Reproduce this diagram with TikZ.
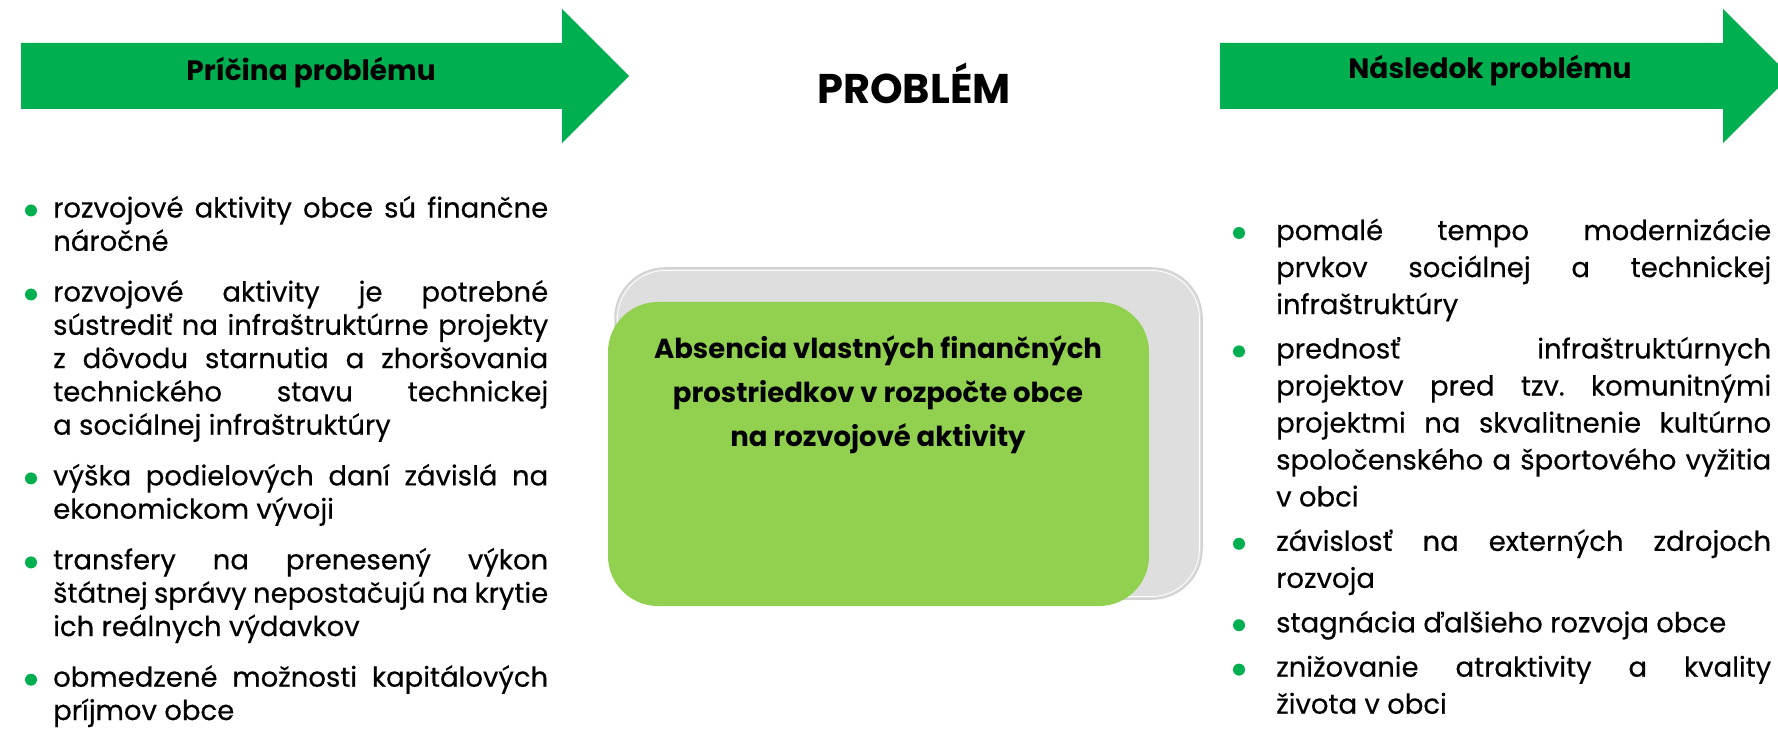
\documentclass[tikz,border=0pt]{standalone}
\usepackage{fontspec}
\setmainfont{Poppins}
\newfontfamily\bodyfont{Poppins}[FakeBold=0.4]
\usetikzlibrary{positioning}

\definecolor{arrowgreen}{HTML}{00B050}
\definecolor{boxgreen}{HTML}{92D050}
\definecolor{boxgray}{HTML}{DEDEDE}
\definecolor{boxedge}{HTML}{D2D2D2}

\tolerance=9999
\hyphenpenalty=10000

\tikzset{
  bulletitem/.style={inner sep=0pt, text width=495pt, align=justify,
    font=\bodyfont\fontsize{27.5}{33.3}\selectfont,
    execute at begin node=\strut, execute at end node=\strut},
  effectitem/.style={bulletitem, font=\bodyfont\fontsize{27.5}{37}\selectfont},
  headtext/.style={inner sep=0pt, font=\bfseries\fontsize{28}{32}\selectfont},
}

\begin{document}
\begin{tikzpicture}[x=1pt, y=-1pt]
\useasboundingbox (0,0) rectangle (1778,735);
\clip (0,0) rectangle (1778,735);

% arrows
\fill[arrowgreen] (21,43) -- (562,43) -- (562,9) -- (629,76) -- (562,143) -- (562,109) -- (21,109) -- cycle;
\fill[arrowgreen] (1220,43) -- (1723,43) -- (1723,9) -- (1790,76) -- (1723,143) -- (1723,109) -- (1220,109) -- cycle;

\node[headtext] (cause) at (311,73) {Príčina problému};
\node[headtext] (effect) at (1490,71) {Následok problému};
\node[inner sep=0pt, font=\bfseries\fontsize{41.5}{48}\selectfont] (problem) at (914,83) {PROBLÉM};

% problem box
\filldraw[fill=boxgray, draw=boxedge, line width=1.5pt, rounded corners=50pt] (615,268) rectangle (1202,599);
\draw[white, line width=0.8pt, rounded corners=48pt] (617.5,270.5) rectangle (1199.5,596.5);
\fill[boxgreen, rounded corners=50pt] (608,302) rectangle (1149,606);

\node[inner sep=0pt, align=center, font=\bfseries\fontsize{27.5}{44}\selectfont] (absence) at (878,395)
  {Absencia vlastných finančných\\prostriedkov v rozpočte obce\\na rozvojové aktivity};

% causes
\node[bulletitem, anchor=north west] (c1) at (53,194)
  {rozvojové aktivity obce sú finančne\linebreak náročné};
\node[bulletitem, below=17pt of c1] (c2)
  {rozvojové aktivity je potrebné\linebreak sústrediť na infraštruktúrne projekty\linebreak z~dôvodu starnutia a~zhoršovania\linebreak technického stavu technickej\linebreak a~sociálnej infraštruktúry};
\node[bulletitem, below=17pt of c2] (c3)
  {výška podielových daní závislá na\linebreak ekonomickom vývoji};
\node[bulletitem, below=17pt of c3] (c4)
  {transfery na prenesený výkon\linebreak štátnej správy nepostačujú na krytie\linebreak ich reálnych výdavkov};
\node[bulletitem, below=17pt of c4] (c5)
  {obmedzené možnosti kapitálových\linebreak príjmov obce};

% effects
\node[effectitem, anchor=north west] (e1) at (1276,214)
  {pomalé tempo modernizácie\linebreak prvkov sociálnej a~technickej\linebreak infraštruktúry};
\node[effectitem, below=7pt of e1] (e2)
  {prednosť infraštruktúrnych\linebreak projektov pred tzv.\ komunitnými\linebreak projektmi na skvalitnenie kultúrno\linebreak spoločenského a~športového vyžitia\linebreak v~obci};
\node[effectitem, below=7pt of e2] (e3)
  {závislosť na externých zdrojoch\linebreak rozvoja};
\node[effectitem, below=7pt of e3] (e4)
  {stagnácia ďalšieho rozvoja obce};
\node[effectitem, below=7pt of e4] (e5)
  {znižovanie atraktivity a~kvality\linebreak života v~obci};

\foreach \n in {c1,c2,c3,c4,c5}
  \fill[arrowgreen] ([xshift=-22pt, yshift=-16.5pt]\n.north west) circle (6pt);
\foreach \n in {e1,e2,e3,e4,e5}
  \fill[arrowgreen] ([xshift=-37pt, yshift=-19pt]\n.north west) circle (6pt);

\end{tikzpicture}
\end{document}
